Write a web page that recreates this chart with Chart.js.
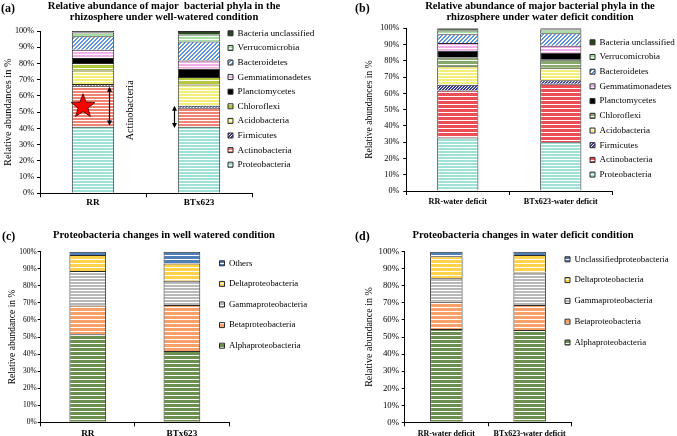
<!DOCTYPE html>
<html><head><meta charset="utf-8">
<script src="https://cdn.jsdelivr.net/npm/chart.js@4.4.0/dist/chart.umd.min.js"></script>
<style>
html,body{margin:0;padding:0;background:#fff;}
#wrap{position:relative;width:677px;height:436px;overflow:hidden;font-family:'Liberation Serif','Times New Roman',serif;color:#000;}
canvas{position:absolute;}
.t{position:absolute;font-weight:bold;white-space:nowrap;font-size:10.6px;line-height:10.7px;text-align:center;transform:translateX(-50%);}
.p{position:absolute;font-weight:bold;white-space:nowrap;font-size:12px;line-height:12px;}
</style></head><body><div id="wrap">
<canvas id="ca" width="338" height="215" style="left:0;top:0"></canvas>
<canvas id="cb" width="339" height="215" style="left:338px;top:0"></canvas>
<canvas id="cc" width="338" height="221" style="left:0;top:215px"></canvas>
<canvas id="cd" width="339" height="221" style="left:338px;top:215px"></canvas>
<div class="p" style="left:1px;top:2px">(a)</div>
<div class="p" style="left:355px;top:2px">(b)</div>
<div class="p" style="left:2px;top:230px">(c)</div>
<div class="p" style="left:355px;top:230px">(d)</div>
<div class="t" style="left:164px;top:1px">Relative abundance of major&nbsp; bacterial phyla in the<br>rhizosphere under well-watered condition</div>
<div class="t" style="left:540px;top:1px">Relative abundance of major bacterial phyla in the<br>rhizosphere under water deficit condition</div>
<div class="t" style="left:164px;top:230px">Proteobacteria changes in well watered condition</div>
<div class="t" style="left:523px;top:230px">Proteobacteria changes in water deficit condition</div>
</div>
<script>
// ---------- data ----------
const phyla = ['Proteobacteria','Actinobacteria','Firmicutes','Acidobacteria','Chloroflexi','Planctomycetes','Gemmatimonadetes','Bacteroidetes','Verrucomicrobia','Bacteria unclassified'];
const catsWW = ['RR','BTx623'];
const catsWD = ['RR-water deficit','BTx623-water deficit'];
const wwRR  = [41.0, 25.2, 1.2, 8.2, 4.7, 3.1, 5.1, 8.2, 2.3, 1.0];
const wwBTx = [41.0, 11.7, 1.2, 13.1, 4.7, 5.1, 5.1, 11.7, 4.3, 2.1];
const wdRR  = [32.9, 28.9, 3.5, 11.3, 5.5, 4.1, 4.8, 5.3, 2.3, 1.4];
const wdBTx = [30.0, 35.9, 2.1, 7.8, 4.9, 4.3, 4.3, 7.6, 2.3, 0.8];
const protWW = ['Alphaproteobacteria','Betaproteobacteria','Gammaproteobacteria','Deltaproteobacteria','Others'];
const protWD = ['Alphaproteobacteria','Betaproteobacteria','Gammaproteobacteria','Deltaproteobacteria','Unclassifiedproteobacteria'];
const pwwRR  = [51.6, 16.8, 20.3, 9.4, 1.9];
const pwwBTx = [41.8, 27.0, 14.1, 10.2, 6.9];
const pwdRR  = [54.7, 16.0, 13.7, 12.9, 2.7];
const pwdBTx = [54.1, 14.6, 19.1, 10.2, 2.0];
const yTicks = [0,10,20,30,40,50,60,70,80,90,100];

// ---------- styling helpers ----------
Chart.defaults.font.family = "'Liberation Serif','Times New Roman',serif";
Chart.defaults.color = '#000';
function hPat(base, line, period, lw){
  return ctx => { const c=document.createElement('canvas'); c.width=4; c.height=period;
    const x=c.getContext('2d'); x.fillStyle=base; x.fillRect(0,0,4,period); x.fillStyle=line; x.fillRect(0,0,4,lw);
    return ctx.createPattern(c,'repeat'); };
}
function dPat(base, line, period, lw){
  return ctx => { const c=document.createElement('canvas'); c.width=period; c.height=period;
    const x=c.getContext('2d'); x.fillStyle=base; x.fillRect(0,0,period,period); x.fillStyle=line;
    for(let i=0;i<period;i++) for(let j=0;j<period;j++) if(((i+j)%period)<lw) x.fillRect(i,j,1,1);
    return ctx.createPattern(c,'repeat'); };
}
const solid = c => () => c;

const fillsA = [hPat('#9fe0d8','#fff',3,1), hPat('#ef8270','#fff',3,1), dPat('#3a3a9a','#fff',3,1), hPat('#f3ee7a','#fff',3,1),
  hPat('#b4c83c','#fff',4,1), solid('#000'), hPat('#f2b0ea','#fff',3,1), dPat('#5d93d8','#fff',4,2), hPat('#a6dfa0','#fff',3,1), solid('#2b4722')];
const fillsB = [hPat('#9fe0d8','#fff',3,1), hPat('#ec4e58','#fff',4,1), dPat('#3a3a9a','#fff',3,1), hPat('#f3ee7a','#fff',3,1),
  hPat('#86a86a','#fff',4,1), solid('#000'), hPat('#f2b0ea','#fff',3,1), dPat('#5d93d8','#fff',4,2), hPat('#a6dfa0','#fff',3,1), solid('#2b4722')];
const fillsP = [hPat('#6b8f4e','#fff',4,1), hPat('#f7a06a','#fff',4,1), hPat('#b8b8b8','#fff',3,1), hPat('#ffd24a','#fff',4,1), hPat('#4f7fb8','#fff',4,1)];

// place legend inside the plot area
const legendPlace = {
  id:'legendPlace',
  afterLayout(chart, args, o){
    const lg = chart.legend; if(!lg) return;
    lg.left = o.x - o.pad; lg.top = o.y - o.pad - o.fs/2;
    lg.right = lg.left + lg.width; lg.bottom = lg.top + lg.height;
  }
};

function makePanel(c){
  const canvas = document.getElementById(c.id), ctx = canvas.getContext('2d');
  const W = canvas.width, H = canvas.height, P = c.plot;
  const datasets = c.names.map((name,i)=>({
    label:name, data:c.values.map(a=>a[i]), backgroundColor:c.fills[i](ctx),
    borderColor:'#2a2a2a', borderWidth:1, barPercentage:c.barPct, categoryPercentage:1
  }));
  return new Chart(ctx,{
    type:'bar',
    data:{labels:c.cats, datasets},
    options:{
      responsive:false, animation:false, devicePixelRatio:1,
      layout:{padding:{left:0, top:P.t, right:W-P.r, bottom:0}},
      plugins:{
        legend:{position:'chartArea', align:'start', reverse:true,
          labels:{boxWidth:c.box, boxHeight:c.box, padding:c.legPad, font:{size:c.legFont}, color:'#000'}},
        tooltip:{enabled:false},
        legendPlace:{x:c.legX, y:c.legY, pad:c.legPad, fs:c.legFont}
      },
      scales:{
        x:{stacked:true, offset:true,
          grid:{offset:true, drawOnChartArea:false, drawTicks:true, tickLength:4, color:'#000', lineWidth:1},
          border:{display:true, color:'#000', width:1},
          ticks:{font:{size:c.xFont, weight:'bold'}, padding:c.xPad, color:'#000', maxRotation:0, autoSkip:false},
          afterFit:s=>{ s.height = H - P.b; }
        },
        y:{stacked:true, min:0, max:100,
          afterBuildTicks:s=>{ s.ticks = yTicks.map(v=>({value:v})); },
          ticks:{callback:v=>v+'%', font:{size:c.yFont}, padding:c.yPad, color:'#000'},
          grid:{drawOnChartArea:false, drawTicks:true, tickLength:3, color:'#000'},
          border:{display:true, color:'#000', width:1},
          title:{display:true, text:c.yTitle, font:{size:c.yTitleFont}, color:'#000',
            padding:{top:c.yTitleX - c.yTitleFont*0.6, bottom:0}},
          afterFit:s=>{ s.width = P.l; }
        }
      }
    },
    plugins:[legendPlace].concat(c.extra||[])
  });
}

// annotations of panel (a)
function drawArrow(ctx,x,y1,y2){
  ctx.save(); ctx.strokeStyle='#000'; ctx.fillStyle='#000'; ctx.lineWidth=1.2;
  ctx.beginPath(); ctx.moveTo(x,y1-3); ctx.lineTo(x,y2+3); ctx.stroke();
  ctx.beginPath(); ctx.moveTo(x,y1); ctx.lineTo(x-2.5,y1-5); ctx.lineTo(x+2.5,y1-5); ctx.closePath(); ctx.fill();
  ctx.beginPath(); ctx.moveTo(x,y2); ctx.lineTo(x-2.5,y2+5); ctx.lineTo(x+2.5,y2+5); ctx.closePath(); ctx.fill();
  ctx.restore();
}
function drawStar(ctx,cx,cy,R,r){
  ctx.save(); ctx.beginPath();
  for(let i=0;i<10;i++){ const a=-Math.PI/2+i*Math.PI/5, rr=i%2?r:R; ctx.lineTo(cx+rr*Math.cos(a), cy+rr*Math.sin(a)); }
  ctx.closePath(); ctx.fillStyle='#ff0000'; ctx.fill(); ctx.lineWidth=0.8; ctx.strokeStyle='#300'; ctx.stroke(); ctx.restore();
}
const annoA = {
  id:'annoA',
  afterDatasetsDraw(chart){
    const {ctx, scales:{x,y}} = chart;
    const x0 = x.getPixelForValue(0), x1 = x.getPixelForValue(1);
    const sy = y.getPixelForValue(wwRR[0] + wwRR[1]/2);
    drawStar(ctx, x0-10, sy, 12.5, 5.2);
    drawArrow(ctx, x0+16.5, y.getPixelForValue(wwRR[0]+0.8), y.getPixelForValue(wwRR[0]+wwRR[1]-0.5));
    drawArrow(ctx, x1-24.5, y.getPixelForValue(wwBTx[0]-0.8), y.getPixelForValue(wwBTx[0]+wwBTx[1]+1.2));
    ctx.save(); ctx.translate(x0+37, sy+4); ctx.rotate(-Math.PI/2);
    ctx.font = "10.2px 'Liberation Serif'"; ctx.textAlign='center'; ctx.textBaseline='middle'; ctx.fillStyle='#000';
    ctx.fillText('Actinobacteria',0,0); ctx.restore();
  }
};

makePanel({id:'ca', cats:catsWW, names:phyla, values:[wwRR,wwBTx], fills:fillsA,
  plot:{l:40, t:31, r:252, b:193.3}, barPct:0.4,
  box:5, legPad:5.4, legFont:9.2, legX:228, legY:33.3,
  xFont:9.2, xPad:0, yFont:8.2, yPad:3, yTitle:'Relative abundances in %', yTitleFont:10.4, yTitleX:8,
  extra:[annoA]});
makePanel({id:'cb', cats:catsWD, names:phyla, values:[wdRR,wdBTx], fills:fillsB,
  plot:{l:68.3, t:28.3, r:274.3, b:191}, barPct:0.4,
  box:5, legPad:5.7, legFont:9, legX:252, legY:42.3,
  xFont:8.2, xPad:2, yFont:8.2, yPad:4, yTitle:'Relative abundances in %', yTitleFont:9.5, yTitleX:31.7});
makePanel({id:'cc', cats:catsWW, names:protWW, values:[pwwRR,pwwBTx], fills:fillsP,
  plot:{l:40.7, t:36.7, r:229, b:207.3}, barPct:0.39,
  box:5, legPad:11.8, legFont:8.8, legX:219.5, legY:48.3,
  xFont:9.2, xPad:2, yFont:7.5, yPad:1, yTitle:'Relative abundance in %', yTitleFont:9.5, yTitleX:12});
makePanel({id:'cd', cats:catsWD, names:protWD, values:[pwdRR,pwdBTx], fills:fillsP,
  plot:{l:66.7, t:36.7, r:233.3, b:207.3}, barPct:0.39,
  box:5, legPad:12, legFont:8.8, legX:227, legY:44.3,
  xFont:8, xPad:2.7, yFont:8.8, yPad:2.7, yTitle:'Relative abundance in %', yTitleFont:10, yTitleX:31.7});
</script>
</body></html>
